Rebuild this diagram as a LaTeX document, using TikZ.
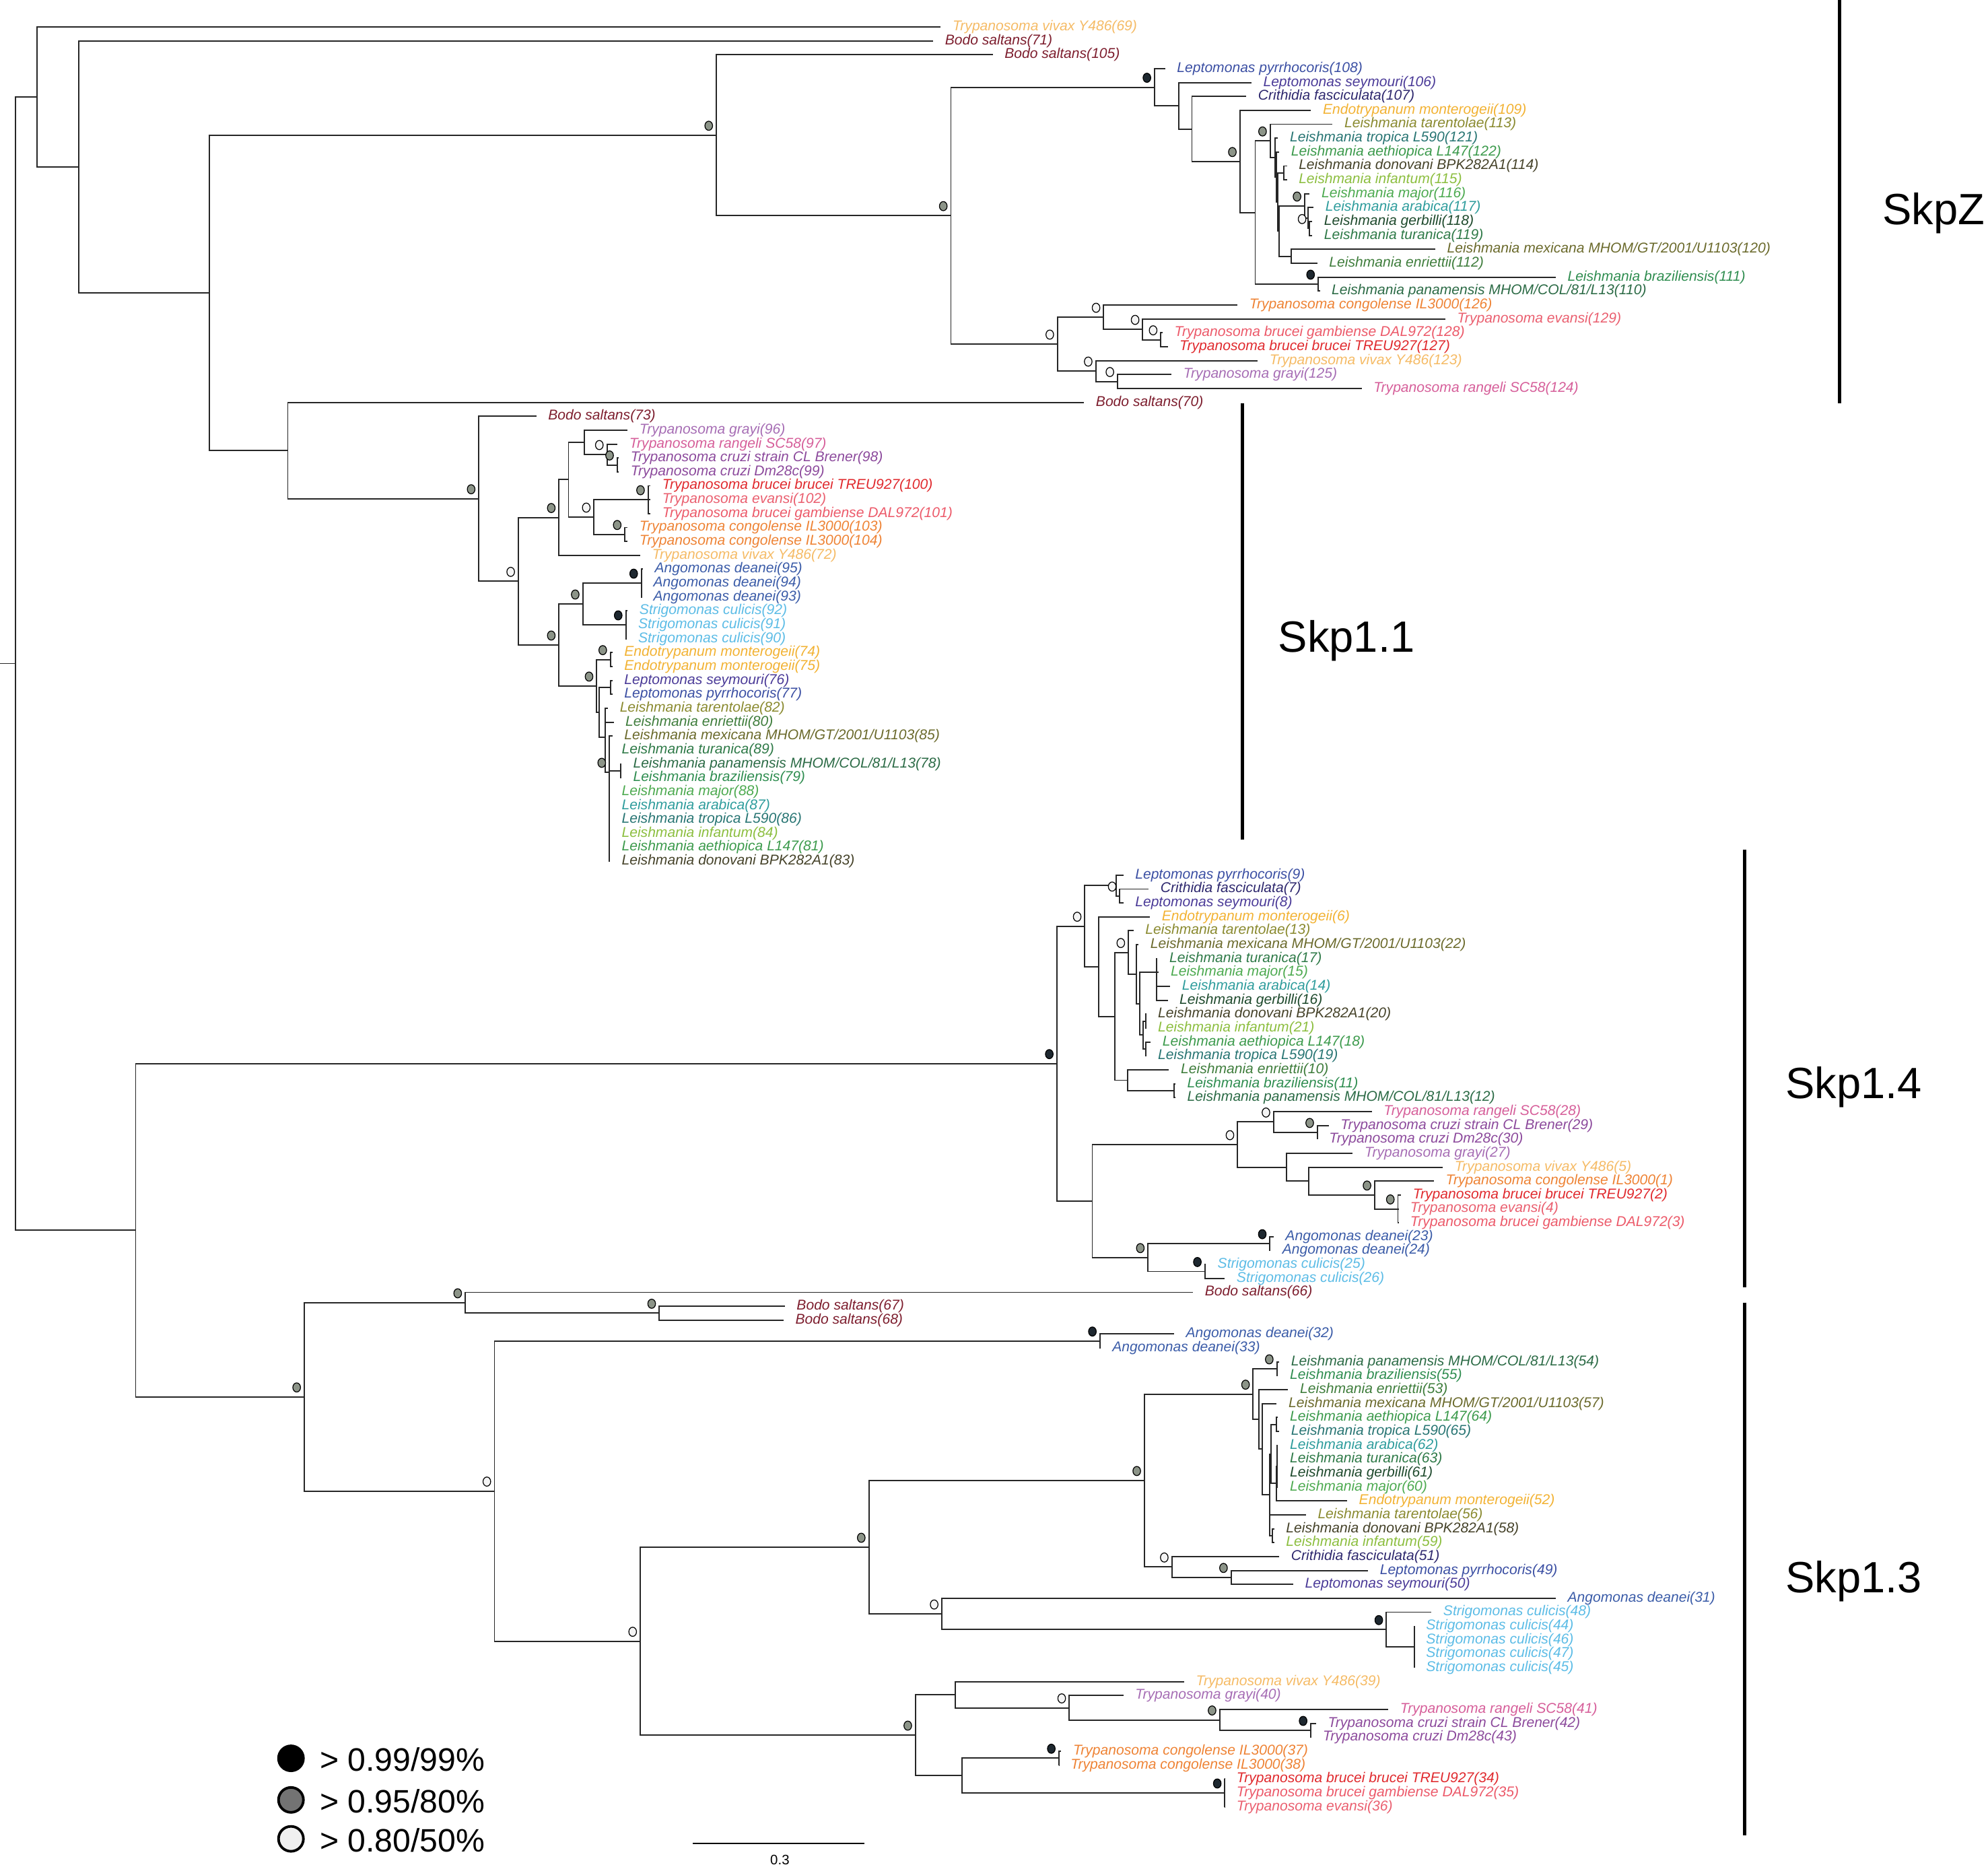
\documentclass[tikz,border=0pt]{standalone}
\usepackage{fontspec}
\setmainfont{Liberation Sans}

\definecolor{cBodo}{HTML}{7D1E2E}
\definecolor{cViv}{HTML}{F5BB66}
\definecolor{cCon}{HTML}{EE8335}
\definecolor{cBru}{HTML}{E02A2E}
\definecolor{cGam}{HTML}{EC5A6A}
\definecolor{cEva}{HTML}{EA6070}
\definecolor{cRan}{HTML}{D65F9A}
\definecolor{cGra}{HTML}{A66DB4}
\definecolor{cCru}{HTML}{8C4A9C}
\definecolor{cLpy}{HTML}{3B4FA3}
\definecolor{cLse}{HTML}{4B3B98}
\definecolor{cCri}{HTML}{2E286E}
\definecolor{cEnd}{HTML}{F2B233}
\definecolor{cAng}{HTML}{3B5CA8}
\definecolor{cStr}{HTML}{5CBCE6}
\definecolor{cTar}{HTML}{8A8A30}
\definecolor{cMex}{HTML}{6B6A2C}
\definecolor{cTro}{HTML}{287573}
\definecolor{cAet}{HTML}{3C9A4C}
\definecolor{cDon}{HTML}{46432A}
\definecolor{cInf}{HTML}{8CBE3F}
\definecolor{cMaj}{HTML}{4DAA50}
\definecolor{cAra}{HTML}{2E9C9C}
\definecolor{cGer}{HTML}{1F4A2D}
\definecolor{cTur}{HTML}{2F7A48}
\definecolor{cEnr}{HTML}{3F7D3C}
\definecolor{cBra}{HTML}{2F8D50}
\definecolor{cPan}{HTML}{2C6B46}
\definecolor{ppblack}{HTML}{1E2830}
\definecolor{ppgray}{HTML}{8C9488}
\definecolor{ppwhite}{HTML}{F4F4F4}

\tikzset{
  br/.style={line width=0.55pt, draw=black!85},
  leaf/.style={anchor=west, inner xsep=0.17cm, inner ysep=0pt, font=\fontsize{6}{7}\selectfont\itshape},
  pp99/.style={draw=black, line width=0.35pt, fill=ppblack},
  pp95/.style={draw=black, line width=0.35pt, fill=ppgray},
  pp80/.style={draw=black, line width=0.35pt, fill=ppwhite},
  cladebar/.style={line width=1.5pt, draw=black},
  clade/.style={anchor=base, inner sep=0pt, font=\fontsize{18.5}{20}\selectfont},
  keydot/.style={circle, draw=black, line width=1.1pt, minimum size=0.37cm, inner sep=0pt},
  keytext/.style={anchor=base west, inner sep=0pt, font=\fontsize{13.7}{15}\selectfont}
}
\newcommand{\ppdot}[2]{\draw[#1] ([shift={(-6,-0.68)}]#2) ellipse [x radius=0.057cm, y radius=0.068cm];}

\begin{document}
\begin{tikzpicture}[x=0.018833cm, y=-0.2065cm]
  \useasboundingbox (0,-1.9334) rectangle (1568,132.31);

  % internal nodes, SkpZ and the long outgroup branches
  \coordinate (stub) at (0,45.78);
  \coordinate (R) at (12,45.78);
  \coordinate (A) at (29,5.03);
  \coordinate (B) at (62,10.07);
  \coordinate (C) at (165,19.13);
  \coordinate (D) at (565,7.79);
  \coordinate (F) at (750,13.57);
  \coordinate (G) at (910.6,4.34);
  \coordinate (I) at (929.7,5.67);
  \coordinate (J) at (940.1,7.34);
  \coordinate (K) at (978,9.68);
  \coordinate (L) at (990,13.35);
  \coordinate (M) at (1001.8,8.2);
  \coordinate (N) at (1005.6,9.4);
  \coordinate (N2) at (1006.6,10.8);
  \coordinate (N3) at (1007.6,12.6);
  \coordinate (P2) at (1012.7,10.5);
  \coordinate (Q) at (1009,14.69);
  \coordinate (Q1) at (1029,12.88);
  \coordinate (Q1b) at (1031.5,13.75);
  \coordinate (GT) at (1033,14.5);
  \coordinate (Q2) at (1018.4,16.5);
  \coordinate (Z) at (1039.7,18.5);
  \coordinate (H) at (834,22.81);
  \coordinate (H1) at (870.5,20.88);
  \coordinate (H1b) at (901.3,21.75);
  \coordinate (H1c) at (915.5,22.5);
  \coordinate (H2) at (864.3,24.75);
  \coordinate (H2b) at (881.4,25.5);
  \coordinate (E) at (227,30.47);

  % Skp1.1
  \coordinate (T) at (377.6,33.93);
  \coordinate (T2) at (408.8,39.87);
  \coordinate (T3) at (440.8,35.28);
  \coordinate (T5) at (448.4,32.56);
  \coordinate (T6) at (461.1,29.88);
  \coordinate (T6b) at (478.7,30.75);
  \coordinate (T6c) at (486.8,31.5);
  \coordinate (T7) at (468.4,35.25);
  \coordinate (T7a) at (511.2,34);
  \coordinate (T7b) at (492.8,36.5);
  \coordinate (T4) at (440.8,44.45);
  \coordinate (T8) at (459.7,41.5);
  \coordinate (T8a) at (505.8,40);
  \coordinate (T8b) at (493.6,43);
  \coordinate (T9) at (470.6,47.4);
  \coordinate (T9a) at (481.4,45.5);
  \coordinate (T9b) at (472.7,49.3);
  \coordinate (T9c) at (481.4,47.5);
  \coordinate (T9d) at (477.5,51.1);
  \coordinate (T9e) at (480.6,53.6);
  \coordinate (T9f) at (489.5,53.5);

  % Skp1.4
  \coordinate (S) at (107,86.54);
  \coordinate (U) at (833.6,74.55);
  \coordinate (U1) at (855.6,64.67);
  \coordinate (U1a) at (880.5,61.75);
  \coordinate (U1a2) at (883.2,62.5);
  \coordinate (U1b) at (866.4,67.58);
  \coordinate (U1c) at (879.1,71.16);
  \coordinate (U1d) at (890,66.56);
  \coordinate (U1f) at (896.2,68.13);
  \coordinate (U1g) at (898.9,70.25);
  \coordinate (U1h) at (912.4,68);
  \coordinate (U1i) at (901.6,72.5);
  \coordinate (U1j) at (903.5,71.5);
  \coordinate (U1k) at (903.5,73.5);
  \coordinate (U1e) at (889.4,75.75);
  \coordinate (U1l) at (926,76.5);
  \coordinate (U2) at (861.5,84.44);
  \coordinate (U3) at (976.1,80.38);
  \coordinate (U3a) at (1004.5,78.75);
  \coordinate (U3c) at (1039,79.5);
  \coordinate (U3b) at (1014.6,82);
  \coordinate (U3d) at (1032.2,83);
  \coordinate (U3e) at (1084.2,84);
  \coordinate (U3f) at (1102.6,85);
  \coordinate (U4) at (905.4,88.5);
  \coordinate (U4a) at (1001.6,87.5);
  \coordinate (U4b) at (950.4,89.5);

  % Skp1.3
  \coordinate (V) at (240,98.52);
  \coordinate (V1) at (367,91.75);
  \coordinate (V1b) at (520,92.5);
  \coordinate (V2) at (390,105.29);
  \coordinate (V3) at (867.6,94.5);
  \coordinate (V5) at (505,116.09);
  \coordinate (V6) at (685.3,109.33);
  \coordinate (V8) at (902.6,104.53);
  \coordinate (V10) at (988.4,98.32);
  \coordinate (V10a) at (1007.1,96.5);
  \coordinate (V10b) at (992.8,100.14);
  \coordinate (V10c) at (995.4,102.28);
  \coordinate (V10d) at (1001.6,105.56);
  \coordinate (V10e) at (1002.7,102.63);
  \coordinate (V10g) at (1006.9,100.5);
  \coordinate (V10h) at (1006.9,104.75);
  \coordinate (V10i) at (1007.5,103.5);
  \coordinate (V10f) at (1003.8,108.5);
  \coordinate (V11) at (924.3,110.75);
  \coordinate (V11b) at (971,111.5);
  \coordinate (V9) at (742.8,114.13);
  \coordinate (V9b) at (1093.5,115.25);
  \coordinate (V9c) at (1115.4,116.5);
  \coordinate (V7) at (722,122.84);
  \coordinate (V7a) at (753.4,119.94);
  \coordinate (V7c) at (843.4,120.88);
  \coordinate (V7d) at (962,121.75);
  \coordinate (V7e) at (1033.8,122.5);
  \coordinate (V7b) at (758.6,125.75);
  \coordinate (V7f) at (835.2,124.5);
  \coordinate (V7g) at (966.1,127);

  % leaves
  \node[leaf,text=cViv] (l69) at (742,0) {Trypanosoma vivax Y486(69)};
  \node[leaf,text=cBodo] (l71) at (736,1) {Bodo saltans(71)};
  \node[leaf,text=cBodo] (l105) at (783,2) {Bodo saltans(105)};
  \node[leaf,text=cLpy] (l108) at (919,3) {Leptomonas pyrrhocoris(108)};
  \node[leaf,text=cLse] (l106) at (987,4) {Leptomonas seymouri(106)};
  \node[leaf,text=cCri] (l107) at (983,5) {Crithidia fasciculata(107)};
  \node[leaf,text=cEnd] (l109) at (1034,6) {Endotrypanum monterogeii(109)};
  \node[leaf,text=cTar] (l113) at (1051,7) {Leishmania tarentolae(113)};
  \node[leaf,text=cTro] (l121) at (1008,8) {Leishmania tropica L590(121)};
  \node[leaf,text=cAet] (l122) at (1009,9) {Leishmania aethiopica L147(122)};
  \node[leaf,text=cDon] (l114) at (1015,10) {Leishmania donovani BPK282A1(114)};
  \node[leaf,text=cInf] (l115) at (1015,11) {Leishmania infantum(115)};
  \node[leaf,text=cMaj] (l116) at (1033,12) {Leishmania major(116)};
  \node[leaf,text=cAra] (l117) at (1036,13) {Leishmania arabica(117)};
  \node[leaf,text=cGer] (l118) at (1035,14) {Leishmania gerbilli(118)};
  \node[leaf,text=cTur] (l119) at (1035,15) {Leishmania turanica(119)};
  \node[leaf,text=cMex] (l120) at (1132,16) {Leishmania mexicana MHOM/GT/2001/U1103(120)};
  \node[leaf,text=cEnr] (l112) at (1039,17) {Leishmania enriettii(112)};
  \node[leaf,text=cBra] (l111) at (1227,18) {Leishmania braziliensis(111)};
  \node[leaf,text=cPan] (l110) at (1041,19) {Leishmania panamensis MHOM/COL/81/L13(110)};
  \node[leaf,text=cCon] (l126) at (976,20) {Trypanosoma congolense IL3000(126)};
  \node[leaf,text=cEva] (l129) at (1140,21) {Trypanosoma evansi(129)};
  \node[leaf,text=cGam] (l128) at (917,22) {Trypanosoma brucei gambiense DAL972(128)};
  \node[leaf,text=cBru] (l127) at (921,23) {Trypanosoma brucei brucei TREU927(127)};
  \node[leaf,text=cViv] (l123) at (992,24) {Trypanosoma vivax Y486(123)};
  \node[leaf,text=cGra] (l125) at (924,25) {Trypanosoma grayi(125)};
  \node[leaf,text=cRan] (l124) at (1074,26) {Trypanosoma rangeli SC58(124)};
  \node[leaf,text=cBodo] (l70) at (855,27) {Bodo saltans(70)};
  \node[leaf,text=cBodo] (l73) at (423,28) {Bodo saltans(73)};
  \node[leaf,text=cGra] (l96) at (495,29) {Trypanosoma grayi(96)};
  \node[leaf,text=cRan] (l97) at (487,30) {Trypanosoma rangeli SC58(97)};
  \node[leaf,text=cCru] (l98) at (488,31) {Trypanosoma cruzi strain CL Brener(98)};
  \node[leaf,text=cCru] (l99) at (488,32) {Trypanosoma cruzi Dm28c(99)};
  \node[leaf,text=cBru] (l100) at (513,33) {Trypanosoma brucei brucei TREU927(100)};
  \node[leaf,text=cEva] (l102) at (513,34) {Trypanosoma evansi(102)};
  \node[leaf,text=cGam] (l101) at (513,35) {Trypanosoma brucei gambiense DAL972(101)};
  \node[leaf,text=cCon] (l103) at (495,36) {Trypanosoma congolense IL3000(103)};
  \node[leaf,text=cCon] (l104) at (495,37) {Trypanosoma congolense IL3000(104)};
  \node[leaf,text=cViv] (l72) at (505,38) {Trypanosoma vivax Y486(72)};
  \node[leaf,text=cAng] (l95) at (507,39) {Angomonas deanei(95)};
  \node[leaf,text=cAng] (l94) at (506,40) {Angomonas deanei(94)};
  \node[leaf,text=cAng] (l93) at (506,41) {Angomonas deanei(93)};
  \node[leaf,text=cStr] (l92) at (495,42) {Strigomonas culicis(92)};
  \node[leaf,text=cStr] (l91) at (494,43) {Strigomonas culicis(91)};
  \node[leaf,text=cStr] (l90) at (494,44) {Strigomonas culicis(90)};
  \node[leaf,text=cEnd] (l74) at (483,45) {Endotrypanum monterogeii(74)};
  \node[leaf,text=cEnd] (l75) at (483,46) {Endotrypanum monterogeii(75)};
  \node[leaf,text=cLse] (l76) at (483,47) {Leptomonas seymouri(76)};
  \node[leaf,text=cLpy] (l77) at (483,48) {Leptomonas pyrrhocoris(77)};
  \node[leaf,text=cTar] (l82) at (479.5,49) {Leishmania tarentolae(82)};
  \node[leaf,text=cEnr] (l80) at (484,50) {Leishmania enriettii(80)};
  \node[leaf,text=cMex] (l85) at (483,51) {Leishmania mexicana MHOM/GT/2001/U1103(85)};
  \node[leaf,text=cTur] (l89) at (481,52) {Leishmania turanica(89)};
  \node[leaf,text=cPan] (l78) at (490,53) {Leishmania panamensis MHOM/COL/81/L13(78)};
  \node[leaf,text=cBra] (l79) at (490,54) {Leishmania braziliensis(79)};
  \node[leaf,text=cMaj] (l88) at (481,55) {Leishmania major(88)};
  \node[leaf,text=cAra] (l87) at (481,56) {Leishmania arabica(87)};
  \node[leaf,text=cTro] (l86) at (481,57) {Leishmania tropica L590(86)};
  \node[leaf,text=cInf] (l84) at (481,58) {Leishmania infantum(84)};
  \node[leaf,text=cAet] (l81) at (481,59) {Leishmania aethiopica L147(81)};
  \node[leaf,text=cDon] (l83) at (481,60) {Leishmania donovani BPK282A1(83)};
  \node[leaf,text=cLpy] (l9) at (886,61) {Leptomonas pyrrhocoris(9)};
  \node[leaf,text=cCri] (l7) at (906,62) {Crithidia fasciculata(7)};
  \node[leaf,text=cLse] (l8) at (886,63) {Leptomonas seymouri(8)};
  \node[leaf,text=cEnd] (l6) at (907,64) {Endotrypanum monterogeii(6)};
  \node[leaf,text=cTar] (l13) at (894,65) {Leishmania tarentolae(13)};
  \node[leaf,text=cMex] (l22) at (898,66) {Leishmania mexicana MHOM/GT/2001/U1103(22)};
  \node[leaf,text=cTur] (l17) at (913,67) {Leishmania turanica(17)};
  \node[leaf,text=cMaj] (l15) at (914,68) {Leishmania major(15)};
  \node[leaf,text=cAra] (l14) at (923,69) {Leishmania arabica(14)};
  \node[leaf,text=cGer] (l16) at (921,70) {Leishmania gerbilli(16)};
  \node[leaf,text=cDon] (l20) at (904,71) {Leishmania donovani BPK282A1(20)};
  \node[leaf,text=cInf] (l21) at (904,72) {Leishmania infantum(21)};
  \node[leaf,text=cAet] (l18) at (907.6,73) {Leishmania aethiopica L147(18)};
  \node[leaf,text=cTro] (l19) at (904,74) {Leishmania tropica L590(19)};
  \node[leaf,text=cEnr] (l10) at (922,75) {Leishmania enriettii(10)};
  \node[leaf,text=cBra] (l11) at (927,76) {Leishmania braziliensis(11)};
  \node[leaf,text=cPan] (l12) at (927,77) {Leishmania panamensis MHOM/COL/81/L13(12)};
  \node[leaf,text=cRan] (l28) at (1082,78) {Trypanosoma rangeli SC58(28)};
  \node[leaf,text=cCru] (l29) at (1048,79) {Trypanosoma cruzi strain CL Brener(29)};
  \node[leaf,text=cCru] (l30) at (1039,80) {Trypanosoma cruzi Dm28c(30)};
  \node[leaf,text=cGra] (l27) at (1067,81) {Trypanosoma grayi(27)};
  \node[leaf,text=cViv] (l5) at (1138,82) {Trypanosoma vivax Y486(5)};
  \node[leaf,text=cCon] (l1) at (1131,83) {Trypanosoma congolense IL3000(1)};
  \node[leaf,text=cBru] (l2) at (1105,84) {Trypanosoma brucei brucei TREU927(2)};
  \node[leaf,text=cEva] (l4) at (1103,85) {Trypanosoma evansi(4)};
  \node[leaf,text=cGam] (l3) at (1103,86) {Trypanosoma brucei gambiense DAL972(3)};
  \node[leaf,text=cAng] (l23) at (1004.5,87) {Angomonas deanei(23)};
  \node[leaf,text=cAng] (l24) at (1002,88) {Angomonas deanei(24)};
  \node[leaf,text=cStr] (l25) at (951,89) {Strigomonas culicis(25)};
  \node[leaf,text=cStr] (l26) at (966,90) {Strigomonas culicis(26)};
  \node[leaf,text=cBodo] (l66) at (941,91) {Bodo saltans(66)};
  \node[leaf,text=cBodo] (l67) at (619,92) {Bodo saltans(67)};
  \node[leaf,text=cBodo] (l68) at (618,93) {Bodo saltans(68)};
  \node[leaf,text=cAng] (l32) at (926,94) {Angomonas deanei(32)};
  \node[leaf,text=cAng] (l33) at (868,95) {Angomonas deanei(33)};
  \node[leaf,text=cPan] (l54) at (1009,96) {Leishmania panamensis MHOM/COL/81/L13(54)};
  \node[leaf,text=cBra] (l55) at (1008,97) {Leishmania braziliensis(55)};
  \node[leaf,text=cEnr] (l53) at (1016,98) {Leishmania enriettii(53)};
  \node[leaf,text=cMex] (l57) at (1007,99) {Leishmania mexicana MHOM/GT/2001/U1103(57)};
  \node[leaf,text=cAet] (l64) at (1008,100) {Leishmania aethiopica L147(64)};
  \node[leaf,text=cTro] (l65) at (1009,101) {Leishmania tropica L590(65)};
  \node[leaf,text=cAra] (l62) at (1008,102) {Leishmania arabica(62)};
  \node[leaf,text=cTur] (l63) at (1008,103) {Leishmania turanica(63)};
  \node[leaf,text=cGer] (l61) at (1008,104) {Leishmania gerbilli(61)};
  \node[leaf,text=cMaj] (l60) at (1008,105) {Leishmania major(60)};
  \node[leaf,text=cEnd] (l52) at (1062.5,106) {Endotrypanum monterogeii(52)};
  \node[leaf,text=cTar] (l56) at (1030,107) {Leishmania tarentolae(56)};
  \node[leaf,text=cDon] (l58) at (1005,108) {Leishmania donovani BPK282A1(58)};
  \node[leaf,text=cInf] (l59) at (1005,109) {Leishmania infantum(59)};
  \node[leaf,text=cCri] (l51) at (1009,110) {Crithidia fasciculata(51)};
  \node[leaf,text=cLpy] (l49) at (1079,111) {Leptomonas pyrrhocoris(49)};
  \node[leaf,text=cLse] (l50) at (1020,112) {Leptomonas seymouri(50)};
  \node[leaf,text=cAng] (l31) at (1227,113) {Angomonas deanei(31)};
  \node[leaf,text=cStr] (l48) at (1129,114) {Strigomonas culicis(48)};
  \node[leaf,text=cStr] (l44) at (1115.4,115) {Strigomonas culicis(44)};
  \node[leaf,text=cStr] (l46) at (1115.4,116) {Strigomonas culicis(46)};
  \node[leaf,text=cStr] (l47) at (1115.4,117) {Strigomonas culicis(47)};
  \node[leaf,text=cStr] (l45) at (1115.4,118) {Strigomonas culicis(45)};
  \node[leaf,text=cViv] (l39) at (934,119) {Trypanosoma vivax Y486(39)};
  \node[leaf,text=cGra] (l40) at (886,120) {Trypanosoma grayi(40)};
  \node[leaf,text=cRan] (l41) at (1095,121) {Trypanosoma rangeli SC58(41)};
  \node[leaf,text=cCru] (l42) at (1038,122) {Trypanosoma cruzi strain CL Brener(42)};
  \node[leaf,text=cCru] (l43) at (1034,123) {Trypanosoma cruzi Dm28c(43)};
  \node[leaf,text=cCon] (l37) at (837,124) {Trypanosoma congolense IL3000(37)};
  \node[leaf,text=cCon] (l38) at (835,125) {Trypanosoma congolense IL3000(38)};
  \node[leaf,text=cBru] (l34) at (966,126) {Trypanosoma brucei brucei TREU927(34)};
  \node[leaf,text=cGam] (l35) at (966,127) {Trypanosoma brucei gambiense DAL972(35)};
  \node[leaf,text=cEva] (l36) at (966,128) {Trypanosoma evansi(36)};

  % branches
  \draw[br] (stub) -- (R) (R) |- (A) (R) |- (S);
  \draw[br] (A) |- (l69.west) (A) |- (B);
  \draw[br] (B) |- (l71.west) (B) |- (C);
  \draw[br] (C) |- (D) (C) |- (E);
  \draw[br] (D) |- (l105.west) (D) |- (F);
  \draw[br] (F) |- (G) (F) |- (H);
  \draw[br] (G) |- (l108.west) (G) |- (I);
  \draw[br] (I) |- (l106.west) (I) |- (J);
  \draw[br] (J) |- (l107.west) (J) |- (K);
  \draw[br] (K) |- (l109.west) (K) |- (L);
  \draw[br] (L) |- (M) (L) |- (Z);
  \draw[br] (M) |- (l113.west) (M) |- (N);
  \draw[br] (N) |- (l121.west) (N) |- (N2);
  \draw[br] (N2) |- (l122.west) (N2) |- (N3);
  \draw[br] (N3) |- (P2) (N3) |- (Q);
  \draw[br] (P2) |- (l114.west) (P2) |- (l115.west);
  \draw[br] (Q) |- (Q1) (Q) |- (Q2);
  \draw[br] (Q1) |- (l116.west) (Q1) |- (Q1b);
  \draw[br] (Q1b) |- (l117.west) (Q1b) |- (GT);
  \draw[br] (GT) |- (l118.west) (GT) |- (l119.west);
  \draw[br] (Q2) |- (l120.west) (Q2) |- (l112.west);
  \draw[br] (Z) |- (l111.west) (Z) |- (l110.west);
  \draw[br] (H) |- (H1) (H) |- (H2);
  \draw[br] (H1) |- (l126.west) (H1) |- (H1b);
  \draw[br] (H1b) |- (l129.west) (H1b) |- (H1c);
  \draw[br] (H1c) |- (l128.west) (H1c) |- (l127.west);
  \draw[br] (H2) |- (l123.west) (H2) |- (H2b);
  \draw[br] (H2b) |- (l125.west) (H2b) |- (l124.west);
  \draw[br] (E) |- (l70.west) (E) |- (T);

  \draw[br] (T) |- (l73.west) (T) |- (T2);
  \draw[br] (T2) |- (T3) (T2) |- (T4);
  \draw[br] (T3) |- (T5) (T3) |- (l72.west);
  \draw[br] (T5) |- (T6) (T5) |- (T7);
  \draw[br] (T6) |- (l96.west) (T6) |- (T6b);
  \draw[br] (T6b) |- (l97.west) (T6b) |- (T6c);
  \draw[br] (T6c) |- (l98.west) (T6c) |- (l99.west);
  \draw[br] (T7) |- (T7a) (T7) |- (T7b);
  \draw[br] (T7a) |- (l100.west) (T7a) |- (l102.west) (T7a) |- (l101.west);
  \draw[br] (T7b) |- (l103.west) (T7b) |- (l104.west);
  \draw[br] (T4) |- (T8) (T4) |- (T9);
  \draw[br] (T8) |- (T8a) (T8) |- (T8b);
  \draw[br] (T8a) |- (l95.west) (T8a) |- (l94.west) (T8a) |- (l93.west);
  \draw[br] (T8b) |- (l92.west) (T8b) |- (l91.west) (T8b) |- (l90.west);
  \draw[br] (T9) |- (T9a) (T9) |- (T9b);
  \draw[br] (T9a) |- (l74.west) (T9a) |- (l75.west);
  \draw[br] (T9b) |- (T9c) (T9b) |- (T9d);
  \draw[br] (T9c) |- (l76.west) (T9c) |- (l77.west);
  \draw[br] (T9d) |- (l82.west) (T9d) |- (l80.west) (T9d) |- (T9e);
  \foreach \n in {85,89,88,87,86,84,81,83} {\draw[br] (T9e) |- (l\n.west);}
  \draw[br] (T9e) |- (T9f);
  \draw[br] (T9f) |- (l78.west) (T9f) |- (l79.west);

  \draw[br] (S) |- (U) (S) |- (V);
  \draw[br] (U) |- (U1) (U) |- (U2);
  \draw[br] (U1) |- (U1a) (U1) |- (U1b);
  \draw[br] (U1a) |- (l9.west) (U1a) |- (U1a2);
  \draw[br] (U1a2) |- (l7.west) (U1a2) |- (l8.west);
  \draw[br] (U1b) |- (l6.west) (U1b) |- (U1c);
  \draw[br] (U1c) |- (U1d) (U1c) |- (U1e);
  \draw[br] (U1d) |- (l13.west) (U1d) |- (U1f);
  \draw[br] (U1f) |- (l22.west) (U1f) |- (U1g);
  \draw[br] (U1g) |- (U1h) (U1g) |- (U1i);
  \foreach \n in {17,15,14,16} {\draw[br] (U1h) |- (l\n.west);}
  \draw[br] (U1i) |- (U1j) (U1i) |- (U1k);
  \draw[br] (U1j) |- (l20.west) (U1j) |- (l21.west);
  \draw[br] (U1k) |- (l18.west) (U1k) |- (l19.west);
  \draw[br] (U1e) |- (l10.west) (U1e) |- (U1l);
  \draw[br] (U1l) |- (l11.west) (U1l) |- (l12.west);
  \draw[br] (U2) |- (U3) (U2) |- (U4);
  \draw[br] (U3) |- (U3a) (U3) |- (U3b);
  \draw[br] (U3a) |- (l28.west) (U3a) |- (U3c);
  \draw[br] (U3c) |- (l29.west) (U3c) |- (l30.west);
  \draw[br] (U3b) |- (l27.west) (U3b) |- (U3d);
  \draw[br] (U3d) |- (l5.west) (U3d) |- (U3e);
  \draw[br] (U3e) |- (l1.west) (U3e) |- (U3f);
  \draw[br] (U3f) |- (l2.west) (U3f) |- (l4.west) (U3f) |- (l3.west);
  \draw[br] (U4) |- (U4a) (U4) |- (U4b);
  \draw[br] (U4a) |- (l23.west) (U4a) |- (l24.west);
  \draw[br] (U4b) |- (l25.west) (U4b) |- (l26.west);

  \draw[br] (V) |- (V1) (V) |- (V2);
  \draw[br] (V1) |- (l66.west) (V1) |- (V1b);
  \draw[br] (V1b) |- (l67.west) (V1b) |- (l68.west);
  \draw[br] (V2) |- (V3) (V2) |- (V5);
  \draw[br] (V3) |- (l32.west) (V3) |- (l33.west);
  \draw[br] (V5) |- (V6) (V5) |- (V7);
  \draw[br] (V6) |- (V8) (V6) |- (V9);
  \draw[br] (V8) |- (V10) (V8) |- (V11);
  \draw[br] (V10) |- (V10a) (V10) |- (V10b);
  \draw[br] (V10a) |- (l54.west) (V10a) |- (l55.west);
  \draw[br] (V10b) |- (l53.west) (V10b) |- (V10c);
  \draw[br] (V10c) |- (l57.west) (V10c) |- (V10d);
  \draw[br] (V10d) |- (V10e) (V10d) |- (l56.west) (V10d) |- (V10f);
  \draw[br] (V10e) |- (V10g) (V10e) |- (V10h);
  \draw[br] (V10g) |- (l64.west) (V10g) |- (l65.west);
  \draw[br] (V10h) |- (V10i) (V10h) |- (l52.west);
  \foreach \n in {62,63,61,60} {\draw[br] (V10i) |- (l\n.west);}
  \draw[br] (V10f) |- (l58.west) (V10f) |- (l59.west);
  \draw[br] (V11) |- (l51.west) (V11) |- (V11b);
  \draw[br] (V11b) |- (l49.west) (V11b) |- (l50.west);
  \draw[br] (V9) |- (l31.west) (V9) |- (V9b);
  \draw[br] (V9b) |- (l48.west) (V9b) |- (V9c);
  \foreach \n in {44,46,47,45} {\draw[br] (V9c) |- (l\n.west);}
  \draw[br] (V7) |- (V7a) (V7) |- (V7b);
  \draw[br] (V7a) |- (l39.west) (V7a) |- (V7c);
  \draw[br] (V7c) |- (l40.west) (V7c) |- (V7d);
  \draw[br] (V7d) |- (l41.west) (V7d) |- (V7e);
  \draw[br] (V7e) |- (l42.west) (V7e) |- (l43.west);
  \draw[br] (V7b) |- (V7f) (V7b) |- (V7g);
  \draw[br] (V7f) |- (l37.west) (V7f) |- (l38.west);
  \draw[br] (V7g) |- (l34.west) (V7g) |- (l35.west) (V7g) |- (l36.west);

  % support values
  \foreach \v in {G,Z,T8a,T8b,U,U4a,U4b,V3,V9b,V7e,V7f,V7g} {\ppdot{pp99}{\v}}
  \foreach \v in {D,F,K,M,Q1,T,T3,T6c,T7a,T7b,T8,T4,T9,T9a,T9e,U3c,U3e,U3f,U4,V,V1,V1b,V6,V8,V10,V10a,V11b,V7,V7d} {\ppdot{pp95}{\v}}
  \foreach \v in {GT,H,H1,H1b,H1c,H2,H2b,T2,T6b,T7,U1,U1a2,U1d,U3,U3a,V2,V5,V11,V9,V7c} {\ppdot{pp80}{\v}}

  % clade bars
  \draw[cladebar] (1451,-1.93) -- (1451,27.07);
  \draw[cladebar] (980,27.07) -- (980,58.44);
  \draw[cladebar] (1376,59.17) -- (1376,90.64);
  \draw[cladebar] (1376,91.73) -- (1376,130.03);
  \node[clade] (skpz) at (1525,14.21) {SkpZ};
  \node[clade] (skp11) at (1062,44.94) {Skp1.1};
  \node[clade] (skp14) at (1462,77.04) {Skp1.4};
  \node[clade] (skp13) at (1462,112.61) {Skp1.3};

  % key and scale
  \node[keydot, fill=black] (k99) at (229.5,124.51) {};
  \node[keydot, fill=black!55] (k95) at (229.5,127.5) {};
  \node[keydot, fill=black!6] (k80) at (229.5,130.3) {};
  \node[keytext] (t99) at (252,125.43) {> 0.99/99\%};
  \node[keytext] (t95) at (252,128.45) {> 0.95/80\%};
  \node[keytext] (t80) at (252,131.23) {> 0.80/50\%};
  \draw[line width=0.6pt] (546.4,130.62) -- (681.8,130.62);
  \node[anchor=base, inner sep=0pt, font=\fontsize{5.8}{7}\selectfont] (scale) at (615.1,132.17) {0.3};
\end{tikzpicture}
\end{document}
